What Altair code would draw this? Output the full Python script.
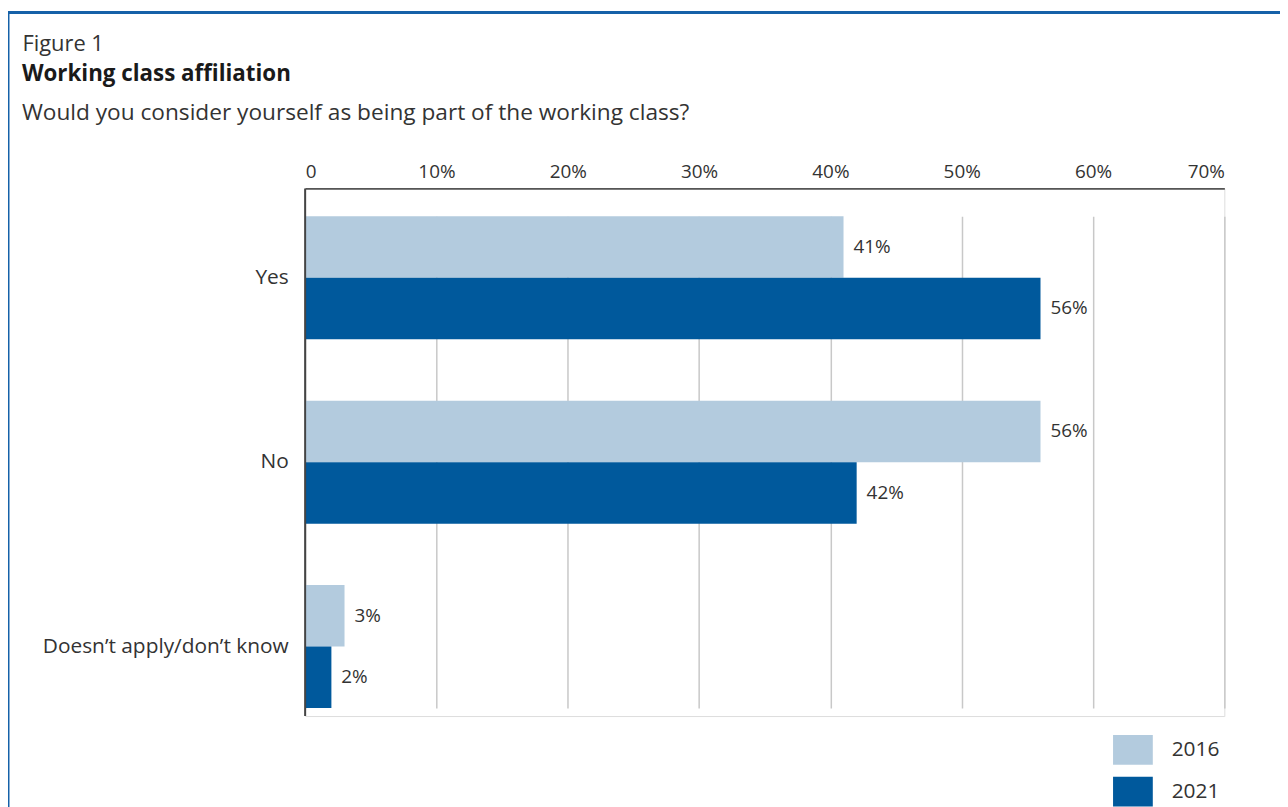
import altair as alt
import pandas as pd

categories = ["Yes", "No", "Doesn\u2019t apply/don\u2019t know"]
years = ["2016", "2021"]
values_2016 = [41, 56, 3]
values_2021 = [56, 42, 2]
x_ticks = [0, 10, 20, 30, 40, 50, 60, 70]
colors = ["#b3cbde", "#00599c"]

rows = []
for c, v16, v21 in zip(categories, values_2016, values_2021):
    rows.append({"category": c, "year": "2016", "value": v16})
    rows.append({"category": c, "year": "2021", "value": v21})
df = pd.DataFrame(rows)

FONT = "Open Sans"
TXT = "#333333"

y_enc = alt.Y(
    "category:N",
    sort=categories,
    scale=alt.Scale(range=[28, 523], paddingInner=0.333, paddingOuter=0),
    axis=alt.Axis(
        title="Figure 1",
        titleAngle=0,
        titleAlign="left",
        titleBaseline="alphabetic",
        titleX=-285,
        titleY=-139,
        titleFont=FONT,
        titleFontSize=22,
        titleFontWeight="normal",
        titleColor=TXT,
        domain=False,
        ticks=False,
        labelPadding=17,
        labelFont=FONT,
        labelFontSize=21,
        labelColor=TXT,
        labelLimit=400,
    ),
)
yoff = alt.YOffset("year:N", sort=years, scale=alt.Scale(paddingInner=0, paddingOuter=0))

x_enc = alt.X(
    "value:Q",
    scale=alt.Scale(domain=[0, 70], nice=False),
    axis=alt.Axis(
        orient="top",
        values=x_ticks,
        labelExpr="datum.value == 0 ? '0' : datum.value + '%'",
        title=None,
        ticks=False,
        labelPadding=7,
        labelFont=FONT,
        labelFontSize=19,
        labelColor=TXT,
        domainColor="#555555",
        domainWidth=2,
        grid=True,
        gridColor="#c8c8c8",
        gridWidth=1.5,
    ),
)

bars = alt.Chart(df).mark_bar().encode(
    x=x_enc,
    y=y_enc,
    yOffset=yoff,
    color=alt.Color(
        "year:N",
        sort=years,
        scale=alt.Scale(domain=years, range=colors),
        legend=alt.Legend(
            title=None,
            orient="none",
            legendX=813,
            legendY=545,
            symbolType="M-1,-0.75H1V0.75H-1Z",
            symbolSize=1600,
            symbolStrokeWidth=0,
            labelFont=FONT,
            labelFontSize=21,
            labelColor=TXT,
            labelOffset=19,
            rowPadding=7,
            padding=0,
        ),
    ),
)

labels = alt.Chart(df).mark_text(
    align="left", baseline="middle", dx=10, font=FONT, fontSize=19, color=TXT
).encode(
    x="value:Q",
    y=alt.Y("category:N", sort=categories),
    yOffset=alt.YOffset("year:N", sort=years),
    text=alt.Text("label:N"),
).transform_calculate(label="datum.value + '%'")

zero_line = alt.Chart(pd.DataFrame({"z": [0]})).mark_rule(
    color="#444444", strokeWidth=2
).encode(x=alt.X("z:Q"))

frame = alt.Chart(pd.DataFrame({"f": [0]})).mark_rect(
    fill="transparent", stroke="#1561a8", strokeWidth=3
).encode(
    x=alt.value(-299), x2=alt.value(1300), y=alt.value(-177), y2=alt.value(1000)
)

chart = alt.layer(frame, bars, labels, zero_line).properties(
    width=925,
    height=531,
    autosize=alt.AutoSizeParams(type="none"),
    padding={"left": 299, "top": 179, "right": 56, "bottom": 89},
    title=alt.Title(
        text="Working class affiliation",
        subtitle="Would you consider yourself as being part of the working class?",
        anchor="start",
        frame="group",
        dx=-285,
        font=FONT,
        fontSize=22.5,
        fontWeight="bold",
        color="#1a1a1a",
        subtitleFont=FONT,
        subtitleFontSize=22.8,
        subtitleColor=TXT,
        subtitlePadding=16,
        offset=-114,
    ),
).configure_view(stroke=None).configure(background="white")

chart.save("out.html", embed_options={"renderer": "svg", "actions": False})
